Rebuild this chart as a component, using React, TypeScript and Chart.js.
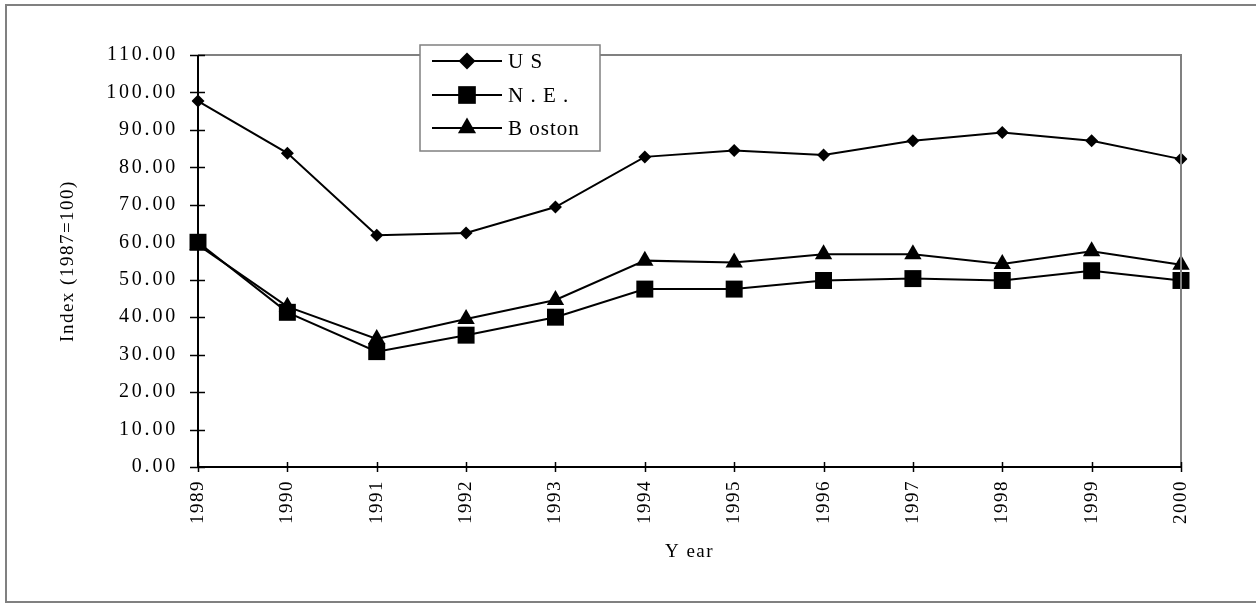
import React, { useEffect, useRef } from "react";
import { Chart, registerables } from "chart.js";

Chart.register(...registerables);

const years = ["1989", "1990", "1991", "1992", "1993", "1994", "1995", "1996", "1997", "1998", "1999", "2000"];
const usValues = [97.7, 83.8, 61.9, 62.5, 69.4, 82.8, 84.5, 83.3, 87.1, 89.3, 87.1, 82.2];
const neValues = [60.0, 41.3, 30.8, 35.2, 40.0, 47.5, 47.5, 49.8, 50.3, 49.8, 52.4, 49.8];
const bostonValues = [59.3, 42.8, 34.2, 39.5, 44.6, 55.1, 54.6, 56.8, 56.8, 54.2, 57.6, 54.0];
const seriesLabels = ["U S", "N . E .", "B oston"];
const yAxisTitle = "Index (1987=100)";
const xAxisTitle = "Y ear";

const FONT = "'Liberation Serif', 'Times New Roman', serif";

function drawMarker(ctx: CanvasRenderingContext2D, style: string, x: number, y: number, r: number) {
  ctx.beginPath();
  if (style === "rectRot") {
    ctx.moveTo(x - r, y);
    ctx.lineTo(x, y - r);
    ctx.lineTo(x + r, y);
    ctx.lineTo(x, y + r);
    ctx.closePath();
  } else if (style === "rect") {
    const s = r * Math.SQRT1_2;
    ctx.rect(x - s, y - s, 2 * s, 2 * s);
  } else {
    for (let i = 0; i < 3; i++) {
      const a = -Math.PI / 2 + (i * 2 * Math.PI) / 3;
      const px = x + Math.cos(a) * r;
      const py = y + Math.sin(a) * r;
      if (i === 0) ctx.moveTo(px, py);
      else ctx.lineTo(px, py);
    }
    ctx.closePath();
  }
  ctx.fill();
}

const decorPlugin = {
  id: "decor",
  beforeDraw(chart: any) {
    const ctx = chart.ctx as CanvasRenderingContext2D;
    ctx.save();
    ctx.strokeStyle = "#808080";
    ctx.lineWidth = 2;
    ctx.strokeRect(6, 5, 1262, 597);
    ctx.restore();
    (ctx as any).letterSpacing = "1.5px";
  },
  afterDatasetsDraw(chart: any) {
    (chart.ctx as any).letterSpacing = "2.8px";
  },
  afterDraw(chart: any) {
    const ctx = chart.ctx as CanvasRenderingContext2D;
    (ctx as any).letterSpacing = "0px";
    const { left, right, top, bottom } = chart.chartArea;
    ctx.save();
    // plot area border top/right
    ctx.strokeStyle = "#808080";
    ctx.lineWidth = 2;
    ctx.beginPath();
    ctx.moveTo(left, top);
    ctx.lineTo(right, top);
    ctx.lineTo(right, bottom);
    ctx.stroke();
    // crossing tick marks
    ctx.strokeStyle = "#000";
    ctx.lineWidth = 1.5;
    const ys = chart.scales.y;
    ys.ticks.forEach((t: any) => {
      const py = Math.round(ys.getPixelForValue(t.value)) + 0.5;
      ctx.beginPath();
      ctx.moveTo(left - 8, py);
      ctx.lineTo(left + 7, py);
      ctx.stroke();
    });
    const xs = chart.scales.x;
    xs.ticks.forEach((_t: any, i: number) => {
      const px = Math.round(xs.getPixelForTick(i)) + 0.5;
      ctx.beginPath();
      ctx.moveTo(px, bottom - 5);
      ctx.lineTo(px, bottom + 5);
      ctx.stroke();
    });
    // axes lines
    ctx.lineWidth = 2;
    ctx.beginPath();
    ctx.moveTo(left, top);
    ctx.lineTo(left, bottom);
    ctx.lineTo(right, bottom);
    ctx.stroke();

    // legend
    const bx = 420, by = 45, bw = 180, bh = 106;
    ctx.fillStyle = "#fff";
    ctx.fillRect(bx, by, bw, bh);
    ctx.strokeStyle = "#808080";
    ctx.lineWidth = 1.5;
    ctx.strokeRect(bx, by, bw, bh);
    const rowsY = [61, 95, 128];
    const legendR = [8.5, 12.5, 10.5];
    chart.data.datasets.forEach((ds: any, i: number) => {
      const y = rowsY[i];
      ctx.strokeStyle = "#000";
      ctx.lineWidth = 2;
      ctx.beginPath();
      ctx.moveTo(432, y);
      ctx.lineTo(502, y);
      ctx.stroke();
      ctx.fillStyle = "#000";
      drawMarker(ctx, ds.pointStyle, 467, y, legendR[i]);
      ctx.font = `21px ${FONT}`;
      (ctx as any).letterSpacing = "1px";
      ctx.textAlign = "left";
      ctx.textBaseline = "middle";
      ctx.fillText(ds.label, 508, y + 1);
      (ctx as any).letterSpacing = "0px";
    });
    ctx.restore();
  },
};

export default function App() {
  const canvasRef = useRef<HTMLCanvasElement | null>(null);

  useEffect(() => {
    const canvas = canvasRef.current;
    if (!canvas) return;
    const mk = (label: string, data: number[], style: string, r: number) => ({
      label,
      data,
      borderColor: "#000",
      backgroundColor: "#000",
      borderWidth: 2,
      pointStyle: style,
      pointRadius: r,
      pointBackgroundColor: "#000",
      pointBorderColor: "#000",
      pointBorderWidth: 0,
      tension: 0,
      fill: false,
    });
    const chart = new Chart(canvas, {
      type: "line",
      data: {
        labels: years,
        datasets: [
          mk(seriesLabels[0], usValues, "rectRot", 6.5),
          mk(seriesLabels[1], neValues, "rect", 12),
          mk(seriesLabels[2], bostonValues, "triangle", 10),
        ],
      },
      options: {
        responsive: false,
        animation: false,
        devicePixelRatio: 1,
        layout: { padding: { left: 0, right: 75, top: 55, bottom: 0 } },
        plugins: { legend: { display: false }, tooltip: { enabled: false } },
        scales: {
          x: {
            type: "category",
            offset: false,
            grid: { display: false, drawTicks: false },
            border: { display: false },
            ticks: {
              z: 0,
              minRotation: 90,
              maxRotation: 90,
              autoSkip: false,
              padding: 13,
              color: "#000",
              font: { family: FONT, size: 19 },
            },
            title: {
              display: true,
              text: xAxisTitle,
              color: "#000",
              font: { family: FONT, size: 19 },
              padding: { top: 0, bottom: 42 },
            },
            afterFit: (s: any) => {
              s.height = 138;
            },
          },
          y: {
            min: 0,
            max: 110,
            grid: { display: false, drawTicks: false },
            border: { display: false },
            ticks: {
              z: 1,
              stepSize: 10,
              padding: 20,
              color: "#000",
              font: { family: FONT, size: 20 },
              callback: (v: any) => Number(v).toFixed(2),
            },
            title: {
              display: true,
              text: yAxisTitle,
              color: "#000",
              font: { family: FONT, size: 19 },
              padding: { top: 57, bottom: 0 },
            },
            afterFit: (s: any) => {
              s.width = 198;
            },
          },
        },
      },
      plugins: [decorPlugin],
    } as any);
    return () => chart.destroy();
  }, []);

  return (
    <div style={{ position: "absolute", left: 0, top: 0, width: 1256, height: 605, background: "#fff" }}>
      <canvas ref={canvasRef} width={1256} height={605} style={{ display: "block", width: 1256, height: 605 }} />
    </div>
  );
}
